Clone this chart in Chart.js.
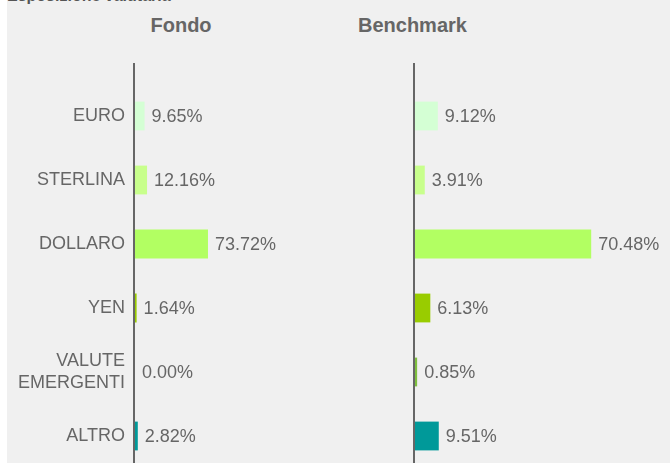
<!DOCTYPE html>
<html lang="it">
  <head>
    <meta charset="UTF-8" />
    <script src="https://cdn.jsdelivr.net/npm/chart.js@4/dist/chart.umd.min.js"></script>
    <title>Esposizione valutaria</title>
    <style>
      body { margin: 0; width: 670px; height: 463px; overflow: hidden; background: #fff;
             font-family: "Liberation Sans", Arial, sans-serif; }
      .sfondo { position: absolute; left: 7px; top: 0; width: 663px; height: 463px; background: #f0f0f0; }
      .titolo { position: absolute; left: 7px; top: -12px; font-size: 16px; line-height: 16px;
                font-weight: bold; color: #555; white-space: nowrap; }
      .sotto { position: absolute; top: 15px; font-size: 20px; line-height: 20px;
               font-weight: bold; color: #666; white-space: nowrap; }
      .box { position: absolute; top: 0; }
    </style>
  </head>
  <body>
    <div class="sfondo"></div>
    <div class="titolo">Esposizione valutaria</div>
    <div class="sotto" style="left:150.5px">Fondo</div>
    <div class="sotto" style="left:358px">Benchmark</div>
    <div class="box" style="left:7px"><canvas id="fondo" width="300" height="500"></canvas></div>
    <div class="box" style="left:340px"><canvas id="bench" width="330" height="500"></canvas></div>

    <script>
      // dati
      const categorie = ["EURO", "STERLINA", "DOLLARO", "YEN", ["VALUTE", "EMERGENTI"], "ALTRO"];
      const fondo = [9.65, 12.16, 73.72, 1.64, 0.0, 2.82];
      const benchmark = [9.12, 3.91, 70.48, 6.13, 0.85, 9.51];
      const colori = ["#d4ffd4", "#c8ff8c", "#b2ff62", "#99cc00", "#7fbf3f", "#009999"];

      const FONT = '"Liberation Sans", Arial, sans-serif';

      // etichette dei valori + asse verticale
      const etichette = {
        id: "etichette",
        afterDatasetsDraw(chart) {
          const ctx = chart.ctx;
          const meta = chart.getDatasetMeta(0);
          const valori = chart.data.datasets[0].data;
          ctx.save();
          ctx.font = "18px " + FONT;
          ctx.fillStyle = "#666";
          ctx.textBaseline = "middle";
          meta.data.forEach((bar, i) => {
            ctx.fillText(valori[i].toFixed(2) + "%", bar.x + 7, bar.y + 1);
          });
          const x0 = chart.scales.x.getPixelForValue(0);
          ctx.fillStyle = "#666";
          ctx.fillRect(x0 - 2, chart.chartArea.top - 21, 2, chart.height);
          ctx.restore();
        },
      };

      function creaGrafico(id, valori, mostraCategorie, padding) {
        const y = {
          display: mostraCategorie,
          grid: { display: false, drawTicks: false },
          border: { display: false },
          ticks: { color: "#666", font: { family: FONT, size: 18 }, padding: 10 },
        };
        if (mostraCategorie) y.afterFit = (scale) => { scale.width = 128; };

        return new Chart(document.getElementById(id), {
          type: "bar",
          data: {
            labels: categorie,
            datasets: [
              {
                data: valori,
                backgroundColor: colori,
                barPercentage: 0.45,
                categoryPercentage: 1,
              },
            ],
          },
          options: {
            indexAxis: "y",
            responsive: false,
            animation: false,
            devicePixelRatio: 1,
            layout: { padding: padding },
            plugins: { legend: { display: false }, tooltip: { enabled: false } },
            scales: {
              x: { display: false, min: 0, max: 100 },
              y: y,
            },
          },
          plugins: [etichette],
        });
      }

      creaGrafico("fondo", fondo, true, { top: 84, bottom: 32, left: 0, right: 73 });
      creaGrafico("bench", benchmark, false, { top: 84, bottom: 32, left: 75, right: 5 });
    </script>
  </body>
</html>
